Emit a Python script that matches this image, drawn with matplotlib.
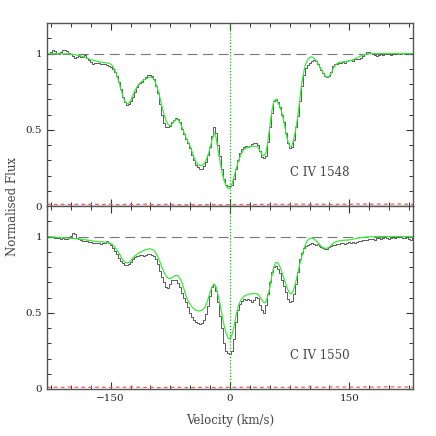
import numpy as np
import matplotlib
matplotlib.use("Agg")
import matplotlib.pyplot as plt
from matplotlib.ticker import MultipleLocator

# velocity grid (km/s), 2.5 km/s bins, each row below covers 20 km/s
vel = np.arange(-230, 230.1, 2.5)

# C IV 1548: observed flux and model fit
data_1548 = [1.000, 1.005, 1.010, 1.025, 1.015, 1.005, 1.000, 1.010,
             1.020, 1.022, 1.018, 1.005, 0.995, 0.985, 0.970, 0.975,
             0.985, 0.980, 0.978, 0.990, 0.968, 0.955, 0.945, 0.928,
             0.935, 0.940, 0.938, 0.934, 0.930, 0.932, 0.926, 0.920,
             0.912, 0.900, 0.878, 0.850, 0.810, 0.765, 0.718, 0.685,
             0.665, 0.668, 0.688, 0.718, 0.748, 0.778, 0.800, 0.808,
             0.812, 0.830, 0.845, 0.856, 0.862, 0.855, 0.835, 0.790,
             0.740, 0.670, 0.600, 0.545, 0.520, 0.518, 0.525, 0.548,
             0.565, 0.575, 0.568, 0.548, 0.505, 0.470, 0.440, 0.410,
             0.380, 0.335, 0.300, 0.272, 0.255, 0.240, 0.245, 0.262,
             0.290, 0.335, 0.390, 0.460, 0.515, 0.480, 0.400, 0.330,
             0.240, 0.175, 0.140, 0.134, 0.132, 0.140, 0.175, 0.240,
             0.300, 0.345, 0.375, 0.388, 0.392, 0.390, 0.395, 0.405,
             0.410, 0.412, 0.400, 0.360, 0.322, 0.315, 0.330, 0.420,
             0.515, 0.610, 0.690, 0.702, 0.685, 0.650, 0.600, 0.548,
             0.480, 0.415, 0.380, 0.385, 0.430, 0.515, 0.590, 0.690,
             0.785, 0.860, 0.905, 0.925, 0.935, 0.948, 0.958, 0.950,
             0.932, 0.910, 0.892, 0.870, 0.855, 0.848, 0.855, 0.880,
             0.915, 0.928, 0.930, 0.940, 0.938, 0.942, 0.937, 0.948,
             0.955, 0.958, 0.952, 0.962, 0.965, 0.962, 0.968, 0.985,
             0.998, 1.008, 1.010, 1.005, 0.998, 0.990, 0.987, 0.992,
             0.996, 0.990, 0.995, 0.998, 0.994, 0.993, 1.000, 0.997,
             1.002, 1.004, 0.999, 1.006, 1.000, 0.996, 1.003, 1.000,
             1.000]
fit_1548 = [1.000, 1.000, 1.000, 1.000, 1.000, 1.000, 1.000, 0.999,
            0.999, 0.998, 0.998, 0.997, 0.996, 0.994, 0.993, 0.990,
            0.988, 0.984, 0.980, 0.975, 0.970, 0.965, 0.960, 0.956,
            0.952, 0.949, 0.946, 0.944, 0.942, 0.940, 0.938, 0.936,
            0.930, 0.918, 0.895, 0.862, 0.820, 0.773, 0.728, 0.690,
            0.672, 0.672, 0.690, 0.720, 0.750, 0.776, 0.796, 0.810,
            0.820, 0.828, 0.835, 0.842, 0.846, 0.842, 0.825, 0.792,
            0.750, 0.697, 0.640, 0.592, 0.555, 0.532, 0.528, 0.540,
            0.558, 0.568, 0.565, 0.545, 0.512, 0.478, 0.445, 0.418,
            0.390, 0.352, 0.315, 0.288, 0.272, 0.265, 0.266, 0.278,
            0.302, 0.336, 0.380, 0.438, 0.478, 0.450, 0.365, 0.290,
            0.220, 0.168, 0.135, 0.115, 0.115, 0.145, 0.190, 0.240,
            0.285, 0.322, 0.350, 0.370, 0.380, 0.385, 0.388, 0.390,
            0.392, 0.392, 0.385, 0.365, 0.338, 0.328, 0.345, 0.420,
            0.520, 0.620, 0.685, 0.700, 0.682, 0.655, 0.615, 0.560,
            0.490, 0.428, 0.392, 0.392, 0.435, 0.500, 0.580, 0.690,
            0.800, 0.875, 0.930, 0.960, 0.974, 0.978, 0.972, 0.960,
            0.940, 0.915, 0.890, 0.868, 0.852, 0.846, 0.852, 0.875,
            0.903, 0.925, 0.936, 0.942, 0.944, 0.946, 0.947, 0.949,
            0.952, 0.956, 0.960, 0.966, 0.972, 0.979, 0.985, 0.990,
            0.994, 0.996, 0.998, 0.999, 1.000, 1.000, 1.000, 1.000,
            1.000, 1.000, 1.000, 1.000, 1.000, 1.000, 1.000, 1.000,
            1.000, 1.000, 1.000, 1.000, 1.000, 1.000, 1.000, 1.000,
            1.000]

# C IV 1550: observed flux and model fit
data_1550 = [1.000, 0.998, 0.996, 0.994, 0.990, 0.992, 0.988, 0.985,
             0.990, 0.986, 0.984, 0.990, 1.005, 1.022, 1.018, 0.992,
             0.985, 0.975, 0.970, 0.972, 0.968, 0.966, 0.962, 0.958,
             0.960, 0.956, 0.958, 0.952, 0.955, 0.960, 0.972, 0.960,
             0.945, 0.925, 0.905, 0.885, 0.862, 0.840, 0.825, 0.815,
             0.812, 0.818, 0.832, 0.852, 0.868, 0.870, 0.875, 0.878,
             0.880, 0.875, 0.882, 0.888, 0.885, 0.880, 0.872, 0.855,
             0.820, 0.775, 0.735, 0.700, 0.672, 0.665, 0.690, 0.712,
             0.718, 0.712, 0.698, 0.668, 0.630, 0.600, 0.570, 0.535,
             0.498, 0.470, 0.450, 0.438, 0.430, 0.426, 0.432, 0.455,
             0.490, 0.545, 0.610, 0.668, 0.685, 0.640, 0.570, 0.480,
             0.400, 0.300, 0.250, 0.234, 0.232, 0.250, 0.330, 0.440,
             0.515, 0.560, 0.578, 0.588, 0.585, 0.590, 0.582, 0.572,
             0.585, 0.605, 0.595, 0.550, 0.515, 0.500, 0.550, 0.625,
             0.700, 0.770, 0.800, 0.808, 0.790, 0.760, 0.715, 0.678,
             0.635, 0.590, 0.572, 0.580, 0.625, 0.690, 0.765, 0.850,
             0.895, 0.925, 0.940, 0.945, 0.950, 0.955, 0.952, 0.945,
             0.948, 0.940, 0.930, 0.922, 0.915, 0.918, 0.930, 0.935,
             0.942, 0.945, 0.952, 0.950, 0.958, 0.955, 0.948, 0.956,
             0.962, 0.960, 0.965, 0.958, 0.966, 0.970, 0.972, 0.978,
             0.980, 0.975, 0.983, 0.985, 0.984, 0.980, 0.988, 0.992,
             0.986, 0.990, 0.995, 0.988, 0.985, 0.992, 0.996, 0.990,
             0.994, 0.998, 0.996, 0.990, 0.988, 0.994, 0.985, 0.980,
             0.990]
fit_1550 = [1.000, 0.999, 0.998, 0.997, 0.996, 0.995, 0.994, 0.993,
            0.992, 0.991, 0.990, 0.989, 0.988, 0.987, 0.986, 0.985,
            0.984, 0.983, 0.981, 0.979, 0.977, 0.975, 0.973, 0.971,
            0.969, 0.967, 0.966, 0.965, 0.965, 0.964, 0.963, 0.960,
            0.955, 0.945, 0.932, 0.915, 0.895, 0.872, 0.850, 0.834,
            0.827, 0.829, 0.840, 0.856, 0.870, 0.881, 0.890, 0.898,
            0.905, 0.911, 0.915, 0.918, 0.919, 0.915, 0.905, 0.885,
            0.858, 0.825, 0.790, 0.760, 0.738, 0.726, 0.724, 0.732,
            0.742, 0.746, 0.740, 0.722, 0.690, 0.650, 0.605, 0.575,
            0.555, 0.537, 0.524, 0.515, 0.512, 0.513, 0.518, 0.530,
            0.552, 0.590, 0.635, 0.672, 0.689, 0.670, 0.615, 0.555,
            0.485, 0.420, 0.368, 0.335, 0.328, 0.355, 0.410, 0.480,
            0.535, 0.572, 0.595, 0.608, 0.615, 0.620, 0.623, 0.625,
            0.626, 0.626, 0.622, 0.605, 0.585, 0.566, 0.568, 0.610,
            0.665, 0.740, 0.800, 0.830, 0.828, 0.805, 0.770, 0.730,
            0.690, 0.655, 0.628, 0.625, 0.650, 0.700, 0.755, 0.815,
            0.865, 0.912, 0.950, 0.975, 0.986, 0.990, 0.986, 0.976,
            0.962, 0.948, 0.935, 0.926, 0.922, 0.924, 0.932, 0.945,
            0.956, 0.964, 0.969, 0.972, 0.974, 0.975, 0.976, 0.977,
            0.978, 0.980, 0.983, 0.986, 0.989, 0.991, 0.993, 0.995,
            0.996, 0.997, 0.998, 0.999, 1.000, 1.000, 1.000, 1.000,
            1.000, 1.000, 1.000, 1.000, 1.000, 1.000, 1.000, 1.000,
            1.000, 1.000, 1.000, 1.000, 1.000, 1.000, 1.000, 1.000,
            1.000]

# error spectra, 10 km/s bins
vel_err = np.arange(-230, 231, 10)
err_1548 = [0.012, 0.010, 0.011, 0.009, 0.012, 0.010, 0.011, 0.010, 0.012, 0.009,
            0.011, 0.010, 0.013, 0.010, 0.009, 0.011, 0.010, 0.008, 0.009, 0.008,
            0.009, 0.010, 0.008, 0.009, 0.010, 0.010, 0.009, 0.011, 0.010, 0.012,
            0.010, 0.011, 0.013, 0.010, 0.012, 0.011, 0.010, 0.012, 0.011, 0.013,
            0.012, 0.011, 0.013, 0.011, 0.014, 0.012, 0.011]
err_1550 = [0.010, 0.012, 0.010, 0.013, 0.011, 0.010, 0.012, 0.011, 0.010, 0.012,
            0.011, 0.013, 0.010, 0.011, 0.009, 0.010, 0.011, 0.010, 0.009, 0.010,
            0.011, 0.009, 0.010, 0.011, 0.010, 0.012, 0.011, 0.010, 0.012, 0.011,
            0.010, 0.012, 0.011, 0.013, 0.012, 0.011, 0.014, 0.012, 0.013, 0.011,
            0.014, 0.012, 0.013, 0.015, 0.012, 0.013, 0.012]

panels = [
    (data_1548, fit_1548, err_1548, "C IV 1548"),
    (data_1550, fit_1550, err_1550, "C IV 1550"),
]

plt.rcParams["font.family"] = "DejaVu Serif"
text_col = "#444444"

fig = plt.figure(figsize=(4.36, 4.36), dpi=100)
ax_top = fig.add_axes([0.1078, 0.5275, 0.8394, 0.4197])
ax_bot = fig.add_axes([0.1078, 0.1078, 0.8394, 0.4197], sharex=ax_top)

for ax, (data, fit, err, label) in zip([ax_top, ax_bot], panels):
    ax.axhline(1.0, color="#777777", lw=0.8, dashes=(9, 5))
    ax.plot(vel_err, err, color="#e86060", lw=0.9, dashes=(3, 2.5))
    ax.step(vel, data, where="mid", color="#404040", lw=0.6)
    ax.plot(vel, fit, color="#3ee83e", lw=0.9)
    ax.axvline(0, color="#22aa22", lw=0.9, ls=(0, (1, 1.5)))
    ax.text(75, 0.22, label, color=text_col, fontsize=8.5, va="center")

    ax.set_xlim(-230, 230)
    ax.set_ylim(0, 1.2)
    ax.xaxis.set_major_locator(MultipleLocator(150))
    ax.xaxis.set_minor_locator(MultipleLocator(25))
    ax.set_yticks([0, 0.5, 1])
    ax.set_yticklabels(["0", "0.5", "1"])
    ax.yaxis.set_minor_locator(MultipleLocator(0.1))
    ax.tick_params(which="both", direction="in", top=True, right=True,
                   labelsize=7.5, labelcolor="#222222", color="#333333")
    ax.tick_params(which="major", length=5, width=0.8)
    ax.tick_params(which="minor", length=2.8, width=0.7)
    for side in ax.spines.values():
        side.set_color("#555555")
        side.set_linewidth(1.0)

ax_top.tick_params(labelbottom=False)
ax_bot.set_xlabel("Velocity (km/s)", color=text_col, fontsize=8.5, labelpad=8)
fig.text(0.028, 0.5275, "Normalised Flux", rotation=90, color=text_col,
         fontsize=8.5, ha="center", va="center")

fig.savefig("out.png", dpi=100)
